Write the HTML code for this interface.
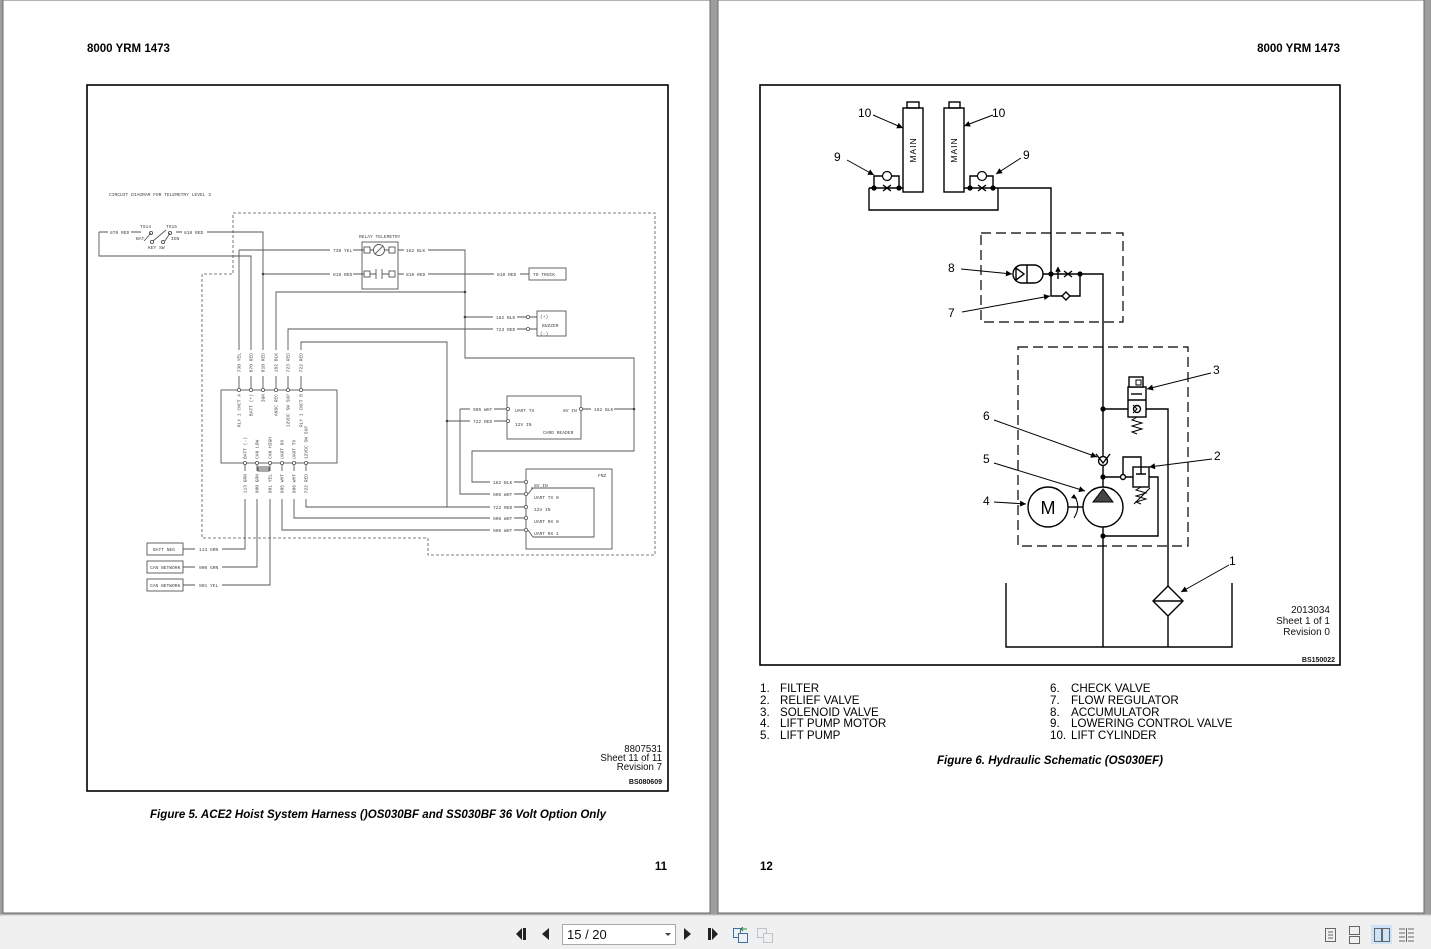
<!DOCTYPE html>
<html><head><meta charset="utf-8"><style>
html,body{margin:0;padding:0;background:#9d9d9d;}
svg{display:block;}
.s{font-family:"Liberation Sans",sans-serif;}
.m{font-family:"Liberation Mono",monospace;font-size:4.6px;fill:#444;}
</style></head><body>
<svg width="1431" height="949" viewBox="0 0 1431 949" xmlns="http://www.w3.org/2000/svg">
<defs>
<marker id="a" viewBox="0 0 10 10" refX="10" refY="5" markerUnits="userSpaceOnUse" markerWidth="8" markerHeight="6" orient="auto"><path d="M0 0L10 5L0 10z" fill="#000"/></marker>
</defs>
<!-- background & pages -->
<rect x="0" y="0" width="1431" height="949" fill="#9d9d9d"/>
<rect x="3" y="0" width="707" height="913" fill="#fff" stroke="#6a6a6a" stroke-width="1"/>
<rect x="718" y="0" width="706" height="913" fill="#fff" stroke="#6a6a6a" stroke-width="1"/>
<!-- toolbar -->
<rect x="0" y="915" width="1431" height="34" fill="#f0f0f0"/>
<line x1="0" y1="915" x2="1431" y2="915" stroke="#c8c8c8"/>

<!-- LEFT PAGE -->
<text class="s" x="87" y="52" font-size="11.5" font-weight="bold">8000 YRM 1473</text>
<rect x="87" y="85" width="581" height="706" fill="none" stroke="#000" stroke-width="1.6"/>
<text class="s" x="378" y="818" font-size="12" font-weight="bold" font-style="italic" text-anchor="middle" textLength="456" lengthAdjust="spacingAndGlyphs">Figure 5. ACE2 Hoist System Harness ()OS030BF and SS030BF 36 Volt Option Only</text>
<text class="s" x="667" y="870" font-size="11.5" font-weight="bold" text-anchor="end">11</text>
<g class="s" font-size="9.7" text-anchor="end" fill="#111">
<text x="662" y="752">8807531</text>
<text x="662" y="761">Sheet 11 of 11</text>
<text x="662" y="770">Revision 7</text>
<text x="662" y="784" font-size="7" font-weight="bold">BS080609</text>
</g>

<!-- circuit diagram -->
<text class="m" x="109" y="196">CIRCUIT DIAGRAM FOR TELEMETRY LEVEL 3</text>
<path d="M233 213H655V555H428V538H202V274H233Z" fill="none" stroke="#555" stroke-width="0.8" stroke-dasharray="3 2"/>
<g stroke="#555" stroke-width="0.9" fill="none">
<!-- key switch -->
<path d="M99 232H108M131 232H141M176 232H182M207 232H263V350"/>
<path d="M99 232V256H251V350"/>
<path d="M144 241L151 233M153 241L166 230M165 241L170 233"/>
<circle cx="151" cy="233" r="1.6"/><circle cx="170" cy="233" r="1.6"/>
<circle cx="152" cy="242" r="1.6"/><circle cx="163" cy="242" r="1.6"/>
<path d="M239 250H330M353 250H364M239 250V350"/>
<path d="M263 274H330M353 274H364"/>
<!-- relay -->
<rect x="362" y="242" width="36" height="47"/>
<rect x="364" y="247" width="6" height="6"/><rect x="389" y="247" width="6" height="6"/>
<circle cx="379" cy="250" r="5.5"/><path d="M375 254L383 246M370 250H373.5M384.5 250H389"/>
<rect x="364" y="271" width="6" height="6"/><rect x="389" y="271" width="6" height="6"/>
<path d="M370 274H376M376 269V279M382 269V279M382 274H389"/>
<path d="M398 250H404M428 250H465V358H634V451H472V482H490"/>
<path d="M398 274H404M428 274H494M520 274H529"/>
<rect x="529" y="268" width="37" height="12"/>
<path d="M276 350V292H465"/>
<path d="M465 317H493M517 317H526M288 350V329H493M517 329H526"/>
<rect x="537" y="311" width="29" height="25"/>
<path d="M530 317H537M530 329H537"/>
<path d="M301 350V342H447V507"/>
<path d="M447 421H470M494 421H506M460 409H470M494 409H506M460 409V494H490"/>
<rect x="507" y="396" width="74" height="43"/>
<path d="M583 409H591M614 409H634"/>
<!-- FNZ -->
<rect x="526" y="469" width="86" height="80"/>
<path d="M531 488H594V537H533M528 494L533 488M528 530L533 537"/>
<path d="M514 482H524M514 494H524M514 507H524M514 518H524M514 530H524"/>
<path d="M306 499V507H490M294 499V518H490M282 499V530H490"/>
<!-- connector -->
<rect x="221" y="390" width="116" height="73"/>
<path d="M239 376V388M251 376V388M263 376V388M276 376V388M288 376V388M301 376V388"/>
<path d="M245 465V471M257 465V471M270 465V471M282 465V471M294 465V471M306 465V471"/>
<path d="M257 469H270M258 467H269V471H258Z"/>
<path d="M245 499V549H222M257 499V567H222M270 499V585H222M183 549H195M183 567H195M183 585H195"/>
<rect x="147" y="543" width="36" height="12"/>
<rect x="147" y="561" width="36" height="12"/>
<rect x="147" y="579" width="36" height="12"/>
</g>
<g fill="#fff" stroke="#555" stroke-width="0.8">
<circle cx="239" cy="390" r="1.6"/><circle cx="251" cy="390" r="1.6"/><circle cx="263" cy="390" r="1.6"/><circle cx="276" cy="390" r="1.6"/><circle cx="288" cy="390" r="1.6"/><circle cx="301" cy="390" r="1.6"/>
<circle cx="245" cy="463" r="1.6"/><circle cx="257" cy="463" r="1.6"/><circle cx="270" cy="463" r="1.6"/><circle cx="282" cy="463" r="1.6"/><circle cx="294" cy="463" r="1.6"/><circle cx="306" cy="463" r="1.6"/>
<circle cx="528" cy="317" r="1.6"/><circle cx="528" cy="329" r="1.6"/>
<circle cx="508" cy="409" r="1.6"/><circle cx="508" cy="421" r="1.6"/><circle cx="581" cy="409" r="1.6"/>
<circle cx="526" cy="482" r="1.6"/><circle cx="526" cy="494" r="1.6"/><circle cx="526" cy="507" r="1.6"/><circle cx="526" cy="518" r="1.6"/><circle cx="526" cy="530" r="1.6"/>
</g>
<g fill="#444">
<circle cx="263" cy="274" r="1.3"/><circle cx="465" cy="292" r="1.3"/><circle cx="465" cy="317" r="1.3"/><circle cx="447" cy="421" r="1.3"/><circle cx="634" cy="409" r="1.3"/>
</g>
<g class="m">
<text x="110" y="234">870 RED</text>
<text x="140" y="228">TS14</text><text x="166" y="228">TS15</text>
<text x="136" y="240">BAT</text><text x="171" y="240">IGN</text>
<text x="148" y="249">KEY SW</text>
<text x="184" y="234">810 RED</text>
<text x="333" y="252">730 YEL</text>
<text x="333" y="276">810 RED</text>
<text x="359" y="238">RELAY TELEMETRY</text>
<text x="406" y="252">182 BLK</text>
<text x="406" y="276">810 RED</text>
<text x="497" y="276">810 RED</text>
<text x="533" y="276">TO TRUCK</text>
<text x="496" y="319">182 BLK</text>
<text x="496" y="331">723 RED</text>
<text x="540" y="318">(+)</text><text x="542" y="327">BUZZER</text><text x="540" y="335">(-)</text>
<text x="473" y="411">905 WHT</text>
<text x="473" y="423">722 RED</text>
<text x="515" y="412">UART TX</text><text x="515" y="426">12V IN</text><text x="563" y="412">8V IN</text><text x="543" y="434">CARD READER</text>
<text x="594" y="411">182 BLK</text>
<text x="598" y="477">FNZ</text>
<text x="534" y="487">8V IN</text><text x="534" y="499">UART TX 0</text><text x="534" y="511">12V IN</text><text x="534" y="523">UART RX 0</text><text x="534" y="535">UART RX 1</text>
<text x="493" y="484">182 BLK</text><text x="493" y="496">905 WHT</text><text x="493" y="509">722 RED</text><text x="493" y="520">906 WHT</text><text x="493" y="532">905 WHT</text>
<text x="153" y="551">BATT NEG</text><text x="150" y="569">CAN NETWORK</text><text x="150" y="587">CAN NETWORK</text>
<text x="199" y="551">113 GRN</text><text x="199" y="569">900 GRN</text><text x="199" y="587">901 YEL</text>
<!-- top wire labels -->
<text text-anchor="end" transform="translate(240.5,353) rotate(-90)">730 YEL</text>
<text text-anchor="end" transform="translate(252.5,353) rotate(-90)">870 RED</text>
<text text-anchor="end" transform="translate(264.5,353) rotate(-90)">810 RED</text>
<text text-anchor="end" transform="translate(277.5,353) rotate(-90)">182 BLK</text>
<text text-anchor="end" transform="translate(289.5,353) rotate(-90)">723 RED</text>
<text text-anchor="end" transform="translate(302.5,353) rotate(-90)">722 RED</text>
<!-- inside top -->
<text text-anchor="end" transform="translate(240.5,394) rotate(-90)">RLY 1 CNCT A</text>
<text text-anchor="end" transform="translate(252.5,394) rotate(-90)">BATT (+)</text>
<text text-anchor="end" transform="translate(264.5,394) rotate(-90)">IGN</text>
<text text-anchor="end" transform="translate(277.5,394) rotate(-90)">ANSC REC</text>
<text text-anchor="end" transform="translate(289.5,394) rotate(-90)">12VDC SW SUP</text>
<text text-anchor="end" transform="translate(302.5,394) rotate(-90)">RLY 1 CNCT B</text>
<!-- inside bottom -->
<text transform="translate(246.5,459) rotate(-90)">BATT (-)</text>
<text transform="translate(258.5,459) rotate(-90)">CAN LOW</text>
<text transform="translate(271.5,459) rotate(-90)">CAN HIGH</text>
<text transform="translate(283.5,459) rotate(-90)">UART RX</text>
<text transform="translate(295.5,459) rotate(-90)">UART TX</text>
<text transform="translate(307.5,459) rotate(-90)">12VDC SW SUP</text>
<!-- bottom wire labels -->
<text text-anchor="end" transform="translate(246.5,474) rotate(-90)">113 GRN</text>
<text text-anchor="end" transform="translate(258.5,474) rotate(-90)">900 GRN</text>
<text text-anchor="end" transform="translate(271.5,474) rotate(-90)">901 YEL</text>
<text text-anchor="end" transform="translate(283.5,474) rotate(-90)">905 WHT</text>
<text text-anchor="end" transform="translate(295.5,474) rotate(-90)">906 WHT</text>
<text text-anchor="end" transform="translate(307.5,474) rotate(-90)">722 RED</text>
</g>

<!-- RIGHT PAGE -->
<text class="s" x="1340" y="52" font-size="11.5" font-weight="bold" text-anchor="end">8000 YRM 1473</text>
<rect x="760" y="85" width="580" height="580" fill="none" stroke="#000" stroke-width="1.6"/>
<g class="s" font-size="10" text-anchor="end" fill="#111">
<text x="1330" y="613">2013034</text>
<text x="1330" y="624">Sheet 1 of 1</text>
<text x="1330" y="635">Revision 0</text>
<text x="1335" y="662" font-size="7" font-weight="bold">BS150022</text>
</g>
<g class="s" font-size="11.6" fill="#000">
<text x="760" y="692">1.</text><text x="780" y="692">FILTER</text>
<text x="760" y="704">2.</text><text x="780" y="704">RELIEF VALVE</text>
<text x="760" y="716">3.</text><text x="780" y="716">SOLENOID VALVE</text>
<text x="760" y="727">4.</text><text x="780" y="727">LIFT PUMP MOTOR</text>
<text x="760" y="739">5.</text><text x="780" y="739">LIFT PUMP</text>
<text x="1050" y="692">6.</text><text x="1071" y="692">CHECK VALVE</text>
<text x="1050" y="704">7.</text><text x="1071" y="704">FLOW REGULATOR</text>
<text x="1050" y="716">8.</text><text x="1071" y="716">ACCUMULATOR</text>
<text x="1050" y="727">9.</text><text x="1071" y="727">LOWERING CONTROL VALVE</text>
<text x="1050" y="739">10.</text><text x="1071" y="739">LIFT CYLINDER</text>
</g>
<text class="s" x="1050" y="764" font-size="12" font-weight="bold" font-style="italic" text-anchor="middle" textLength="226" lengthAdjust="spacingAndGlyphs">Figure 6. Hydraulic Schematic (OS030EF)</text>
<text class="s" x="760" y="870" font-size="11.5" font-weight="bold">12</text>

<!-- hydraulic schematic -->
<g stroke="#000" stroke-width="1.4" fill="none">
<rect x="903" y="108" width="20" height="84" fill="#fff"/>
<rect x="907" y="102" width="12" height="6"/>
<rect x="944" y="108" width="20" height="84" fill="#fff"/>
<rect x="949" y="102" width="11" height="6"/>
<path d="M869 188H903M874 188V176H899V188"/>
<path d="M869 188V210H998V188"/>
<path d="M964 188H1051V296H1080V274"/>
<path d="M970 188V176H993V188"/>
<path d="M1043 274H1103V647"/>
<path d="M883 185L891 191M883 191L891 185M978 185L986 191M978 191L986 185"/>
<path d="M1064 271L1072 277M1064 277L1072 271M1058 279V269M1056 272L1058 268L1060 272"/>
<rect x="981" y="233" width="142" height="89" stroke-dasharray="10 5" stroke-width="1.2"/>
<rect x="1013" y="265" width="30" height="18" rx="9" fill="#fff"/>
<path d="M1027 265V283M1016 268L1024 274L1016 280Z"/>
<path d="M1062 296L1066 292L1070 296L1066 300Z" fill="#fff"/>
<!-- pump section -->
<rect x="1018" y="347" width="170" height="199" stroke-dasharray="10 5" stroke-width="1.2"/>
<path d="M1103 409H1168V647"/>
<rect x="1128" y="387" width="18" height="30" fill="#fff"/>
<path d="M1128 400H1146"/>
<path d="M1131 394H1142"/>
<circle cx="1137" cy="409" r="3.5" fill="#fff"/>
<path d="M1133 405L1137 409L1133 413" stroke-width="1"/>
<rect x="1129" y="377" width="14" height="10" fill="#fff"/>
<rect x="1136" y="380" width="5" height="5" stroke-width="1"/>
<path d="M1137 417L1132 420L1142 423L1132 426L1142 429L1132 432L1137 434" stroke-width="1"/>
<circle cx="1103" cy="461" r="4.5" fill="#fff"/>
<path d="M1096 454L1103 463L1110 454"/>
<path d="M1103 477H1133"/>
<circle cx="1123" cy="477" r="2.5" fill="#fff"/>
<path d="M1123 475V457H1141V467"/>
<rect x="1133" y="467" width="16" height="20" fill="#fff"/>
<path d="M1136 474H1146M1141 467V474"/>
<path d="M1141 487L1136 490L1146 493L1136 496L1146 499L1136 502L1141 504" stroke-width="1"/>
<path d="M1134 504L1150 488" stroke-width="1"/>
<path d="M1149 477H1158V536H1103"/>
<circle cx="1103" cy="507" r="20" fill="#fff"/>
<circle cx="1048" cy="507" r="20" fill="#fff"/>
<path d="M1068 507H1083"/>
<path d="M1074 518C1079 510 1079 503 1074 495" stroke-width="1.1"/>
<path d="M1006 583V647H1232V583"/>
<path d="M1168 586L1183 601L1168 616L1153 601Z" fill="#fff"/>
<path d="M1153 601H1183"/>
</g>
<path d="M1103 489L1093 502H1113Z" fill="#444" stroke="#000" stroke-width="1"/>
<path d="M1071 498L1074 494L1077 499Z" fill="#000"/>
<text class="s" x="1048" y="514" font-size="18" text-anchor="middle">M</text>
<g fill="#000">
<circle cx="874" cy="188" r="2.6"/><circle cx="899" cy="188" r="2.6"/>
<circle cx="970" cy="188" r="2.6"/><circle cx="993" cy="188" r="2.6"/>
<circle cx="1051" cy="274" r="2.6"/><circle cx="1080" cy="274" r="2.6"/>
<circle cx="1103" cy="409" r="2.6"/><circle cx="1103" cy="477" r="2.6"/><circle cx="1103" cy="536" r="2.6"/>
</g>
<g fill="#fff" stroke="#000" stroke-width="1.2">
<circle cx="887" cy="176" r="4.5"/><circle cx="982" cy="176" r="4.5"/>
</g>
<g stroke="#000" stroke-width="1" fill="none" marker-end="url(#a)">
<path d="M873 115L903 128"/>
<path d="M993 115L964 126"/>
<path d="M847 160L874 175"/>
<path d="M1021 158L996 174"/>
<path d="M961 269L1012 274"/>
<path d="M962 312L1050 296"/>
<path d="M1211 373L1147 389"/>
<path d="M994 420L1097 457"/>
<path d="M994 463L1085 491"/>
<path d="M994 502L1026 504"/>
<path d="M1212 459L1149 467"/>
<path d="M1229 565L1181 592"/>
</g>
<g class="s" font-size="12">
<text x="858" y="117">10</text>
<text x="992" y="117">10</text>
<text x="834" y="161">9</text>
<text x="1023" y="159">9</text>
<text x="948" y="272">8</text>
<text x="948" y="317">7</text>
<text x="1213" y="374">3</text>
<text x="983" y="420">6</text>
<text x="983" y="463">5</text>
<text x="983" y="505">4</text>
<text x="1214" y="460">2</text>
<text x="1229" y="565">1</text>
</g>
<text class="s" font-size="8.5" letter-spacing="1" text-anchor="middle" transform="translate(916,150) rotate(-90)">MAIN</text>
<text class="s" font-size="8.5" letter-spacing="1" text-anchor="middle" transform="translate(957,150) rotate(-90)">MAIN</text>

<!-- toolbar icons -->
<g fill="#222">
<path d="M522 928V940L516 934Z"/><rect x="523" y="928" width="3" height="12"/>
<path d="M549 928V940L542 934Z"/>
<path d="M684 928V940L691 934Z"/>
<rect x="708" y="928" width="3" height="12"/><path d="M712 928V940L718 934Z"/>
</g>
<rect x="562.5" y="924.5" width="113" height="20" fill="#fff" stroke="#a8a8a8"/>
<text class="s" x="567" y="939" font-size="13" fill="#111">15 / 20</text>
<path d="M665 933H671L668 936Z" fill="#444"/>
<g fill="none" stroke="#3a6ea5" stroke-width="1">
<rect x="733.5" y="928.5" width="7" height="9"/><rect x="738.5" y="933.5" width="9" height="9" fill="#f0f0f0"/>
<path d="M741 929H747M743 927L741 929L743 931" stroke="#2a8a3a"/>
</g>
<g fill="none" stroke="#b8c4d0" stroke-width="1">
<rect x="757.5" y="928.5" width="9" height="9"/><rect x="763.5" y="933.5" width="9" height="9" fill="#f0f0f0"/>
</g>
<rect x="1371" y="925" width="21" height="19" fill="#cde3f7"/>
<g fill="none" stroke="#666" stroke-width="1">
<rect x="1325.5" y="928.5" width="10" height="13"/><path d="M1328 932H1333M1328 935H1333M1328 938H1333"/>
<rect x="1349.5" y="926.5" width="10" height="8"/><rect x="1349.5" y="936.5" width="10" height="7"/>
<rect x="1374.5" y="928.5" width="7" height="13"/><rect x="1382.5" y="928.5" width="7" height="13"/>
<path d="M1399 929H1405M1399 933H1405M1399 937H1405M1399 941H1405M1408 929H1414M1408 933H1414M1408 937H1414M1408 941H1414M1406.5 928V942"/>
</g>
</svg>
</body></html>
